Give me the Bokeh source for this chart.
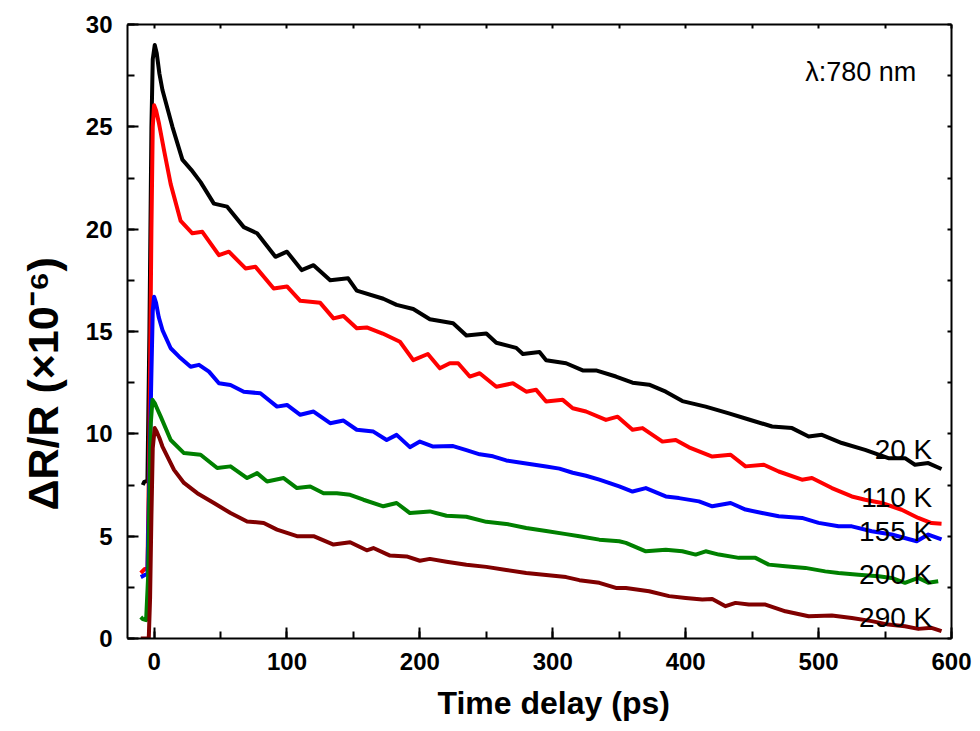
import numpy as np
from bokeh.plotting import figure
from bokeh.models import (LinearAxis, Label, SingleIntervalTicker, FixedTicker,
                          Range1d, CustomJSTickFormatter, Title)
from bokeh.embed import file_html
from bokeh.resources import INLINE
from bokeh.core.properties import value

# ---------------- data ----------------
t_20K = [-8.5, -7.5, -5, -3.5, -2, -1, 0.5, 2, 4, 6.3, 13.8, 21.3, 28, 35, 45, 55, 67.5, 77.5,
         91.3, 100, 111, 120, 132.5, 146, 152.5, 172.5, 182.5, 195, 207.5, 225, 235, 250,
         257.5, 272.5, 277.5, 290, 295, 310, 322.5, 332.5, 347.5, 360, 372.5, 385, 397.5,
         415, 432.5, 447.5, 465, 480, 492.5, 502.5, 517.5, 535, 552.5, 565, 572.5, 582.5, 592.5]
r_20K = [7.5, 7.65, 7.7, 15, 25, 28.3, 29.0, 28.6, 27.6, 26.8, 25.0, 23.4, 22.9, 22.3, 21.25,
         21.1, 20.1, 19.8, 18.65, 18.9, 18.0, 18.24, 17.5, 17.6, 17.0, 16.6, 16.3, 16.1, 15.6,
         15.4, 14.8, 14.9, 14.45, 14.2, 13.9, 14.0, 13.6, 13.45, 13.1, 13.1, 12.8, 12.5, 12.4,
         12.06, 11.6, 11.33, 11.0, 10.7, 10.36, 10.28, 9.87, 9.95, 9.55, 9.22, 8.81, 8.81,
         8.49, 8.57, 8.28]

t_110K = [-10, -7, -5, -3.5, -2, -1, 0, 1.5, 3.75, 7.5, 12.5, 20, 28.8, 36.3, 48.8, 56.3, 68.8,
          76.3, 90, 100, 110, 125, 135, 142.5, 152.5, 160, 172, 185, 195, 206, 215, 222.5,
          228.8, 237.5, 245, 257.5, 270, 280, 287.5, 295, 307.5, 315, 325, 340, 348.8, 360,
          367.5, 382.5, 392.5, 402.5, 420, 433.8, 445, 458.8, 470, 487.5, 495, 510, 525, 535,
          547.5, 562.5, 575, 585, 592.5]
r_110K = [3.2, 3.4, 3.4, 10, 20, 25, 26.05, 25.8, 25.15, 23.85, 22.2, 20.4, 19.8, 19.87, 18.73,
          18.9, 18.08, 18.16, 17.1, 17.2, 16.5, 16.4, 15.64, 15.76, 15.16, 15.2, 14.9, 14.5,
          13.6, 13.9, 13.2, 13.45, 13.45, 12.8, 12.96, 12.3, 12.47, 12.06, 12.15, 11.58, 11.66,
          11.25, 11.09, 10.68, 10.84, 10.2, 10.28, 9.62, 9.7, 9.34, 8.89, 8.98, 8.41, 8.49,
          8.16, 7.76, 7.84, 7.35, 6.94, 6.78, 6.62, 6.29, 5.89, 5.64, 5.61]

t_155K = [-10, -7, -5, -3.5, -2, -1, 0, 1.5, 3.5, 6.3, 12.5, 18.8, 27.5, 33.8, 41.3, 48.8, 57.5,
          67.5, 80, 92.5, 100, 110, 120, 132.5, 142.5, 152.5, 165, 175, 182.5, 192.5, 200,
          210, 225, 235, 245, 255, 265, 275, 285, 295, 305, 315, 325, 335, 350, 360, 370, 385,
          395, 410, 420, 433.8, 445, 457.5, 470, 487.5, 500, 515, 525, 540, 555, 573.8, 582.5,
          592.5]
r_155K = [3.0, 3.1, 3.2, 8, 13, 16, 16.7, 16.4, 15.7, 15.07, 14.18, 13.77, 13.28, 13.37, 13.04,
          12.47, 12.39, 12.06, 11.98, 11.33, 11.41, 10.93, 11.09, 10.52, 10.65, 10.2, 10.11,
          9.7, 9.95, 9.35, 9.62, 9.38, 9.4, 9.2, 9.0, 8.9, 8.7, 8.6, 8.5, 8.4, 8.3, 8.1, 7.95,
          7.76, 7.43, 7.18, 7.35, 6.94, 6.86, 6.7, 6.46, 6.62, 6.3, 6.13, 5.97, 5.89, 5.65,
          5.48, 5.48, 5.24, 5.08, 4.75, 5.08, 4.84]

t_200K = [-10, -8.5, -6, -4.5, -3.5, -2.5, -1.2, 0.5, 2.5, 5, 12.5, 22.5, 35, 47.5, 57.5, 70,
          77.5, 85, 97.5, 107.5, 117.5, 127.5, 137.5, 147.5, 157.5, 172.5, 182.5, 192.5, 207.5,
          220, 235, 250, 265, 280, 295, 310, 320, 335, 350, 355, 370, 385, 397.5, 407.5, 415,
          425, 440, 452.5, 462.5, 475, 490, 505, 515, 530, 545, 555, 565, 575, 582.5, 590]
r_200K = [1.05, 0.95, 0.9, 3, 7, 10.5, 11.66, 11.5, 11.2, 10.84, 9.7, 9.06, 8.98, 8.33, 8.41,
          7.84, 8.08, 7.67, 7.84, 7.35, 7.43, 7.1, 7.1, 7.02, 6.78, 6.46, 6.62, 6.13, 6.21,
          6.0, 5.95, 5.7, 5.6, 5.4, 5.25, 5.1, 5.0, 4.83, 4.75, 4.67, 4.26, 4.34, 4.26, 4.1,
          4.26, 4.1, 3.94, 3.94, 3.61, 3.53, 3.45, 3.28, 3.2, 3.12, 3.04, 2.96, 2.72, 2.96,
          2.72, 2.8]

t_290K = [-10, -6, -4, -3, -2, -1, 0.5, 2, 4, 6.3, 15, 22.5, 32.5, 45, 57.5, 70, 82.5, 92.5,
          107.5, 120, 135, 147.5, 160, 165, 177.5, 190, 200, 207.5, 220, 235, 250, 265, 280,
          295, 310, 320, 335, 347.5, 355, 372.5, 387.5, 400, 412.5, 420, 430, 437.5, 447.5,
          460, 475, 492.5, 510, 525, 540, 552.5, 565, 575, 585, 592.5]
r_290K = [0, 0, 0, 2, 6, 9.3, 10.28, 10.1, 9.8, 9.38, 8.24, 7.6, 7.1, 6.62, 6.13, 5.72, 5.64,
          5.32, 5.0, 5.0, 4.59, 4.7, 4.31, 4.42, 4.05, 4.01, 3.8, 3.89, 3.75, 3.6, 3.5, 3.35,
          3.2, 3.1, 3.0, 2.85, 2.72, 2.47, 2.47, 2.31, 2.07, 1.98, 1.9, 1.93, 1.58, 1.74, 1.66,
          1.66, 1.33, 1.09, 1.12, 1.0, 0.85, 0.68, 0.6, 0.47, 0.52, 0.36]

series = [
    (t_20K, r_20K, "black", "20 K"),
    (t_110K, r_110K, "#ff0000", "110 K"),
    (t_155K, r_155K, "#0000ff", "155 K"),
    (t_200K, r_200K, "#008000", "200 K"),
    (t_290K, r_290K, "#800000", "290 K"),
]
label_y = [9.22, 6.88, 5.22, 3.12, 1.02]

FONT = "Liberation Sans"

p = figure(width=980, height=731, x_range=Range1d(-20, 600), y_range=Range1d(0, 30),
           output_backend="svg", toolbar_location=None,
           min_border_left=127, min_border_right=29, min_border_top=24, min_border_bottom=92)
p.outline_line_color = None
p.xgrid.visible = False
p.ygrid.visible = False
p.background_fill_color = "white"
p.border_fill_color = "white"

for t, r, c, name in series:
    p.line(t, r, line_color=c, line_width=4, line_join="round")

def style_main(ax, ticker):
    ax.ticker = ticker
    ax.axis_line_width = 2
    ax.major_tick_line_width = 2
    ax.minor_tick_line_width = 2
    ax.major_tick_in = 11
    ax.major_tick_out = 0
    ax.minor_tick_in = 7
    ax.minor_tick_out = 0
    ax.major_label_text_font = FONT
    ax.major_label_text_font_style = "bold"
    ax.major_label_text_font_size = "24px"
    ax.major_label_text_color = "black"

xa = p.xaxis[0]
style_main(xa, SingleIntervalTicker(interval=100, num_minor_ticks=2))
xa.major_label_standoff = 14

ya = p.yaxis[0]
style_main(ya, SingleIntervalTicker(interval=5, num_minor_ticks=2))
ya.major_label_standoff = 15

def plain_axis(ticks):
    ax = LinearAxis(ticker=FixedTicker(ticks=ticks))
    ax.formatter = CustomJSTickFormatter(code="return ''")
    ax.major_label_text_font_size = "0px"
    ax.major_label_standoff = 0
    ax.axis_line_width = 2
    ax.major_tick_line_width = 2
    ax.major_tick_in = 4
    ax.major_tick_out = 0
    ax.minor_tick_line_color = None
    return ax

p.add_layout(plain_axis(list(range(0, 601, 50))), "above")
p.add_layout(plain_axis([i * 2.5 for i in range(0, 13)]), "right")

# axis titles as titles so that they can be shifted like in the reference
p.add_layout(Title(text="Time delay (ps)", align="left", offset=310,
                   text_font=FONT, text_font_style="bold", text_font_size="32px",
                   text_color="black", standoff=21), "below")
p.add_layout(Title(text="ΔR/R (×10⁻⁶)", align="left", offset=128,
                   text_font=FONT, text_font_style="bold", text_font_size="43px",
                   text_color="black", standoff=32), "left")

for (t, r, c, name), ly in zip(series, label_y):
    p.add_layout(Label(x=585.5, y=ly, text=name, text_align="right",
                       text_baseline="alphabetic", text_font=FONT,
                       text_font_size="28px", text_color="black"))

p.add_layout(Label(x=490, y=27.66, text="λ:780 nm", text_align="left",
                   text_baseline="alphabetic", text_font=FONT,
                   text_font_size="27px", text_color="black"))

open("out.html", "w").write(file_html(p, INLINE))
